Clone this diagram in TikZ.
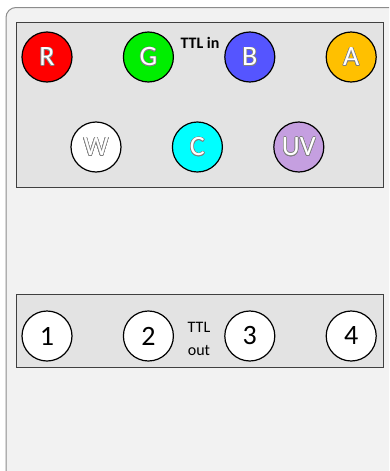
\documentclass[tikz,border=0pt]{standalone}
\usepackage{fontspec}
\setmainfont{Carlito}
\usepackage{contour}
\usepackage{tikz}
\usetikzlibrary{positioning}
\contourlength{0.6pt}
\definecolor{panel}{HTML}{F2F2F2}
\definecolor{tray}{HTML}{E3E3E3}
\definecolor{edge}{HTML}{8C8C8C}
\definecolor{ledG}{HTML}{00EE00}
\definecolor{ledB}{HTML}{5555FF}
\definecolor{ledA}{HTML}{FFC000}
\definecolor{ledC}{HTML}{00FFFF}
\definecolor{ledUV}{HTML}{C59FE0}
\newcommand{\ledtxt}[1]{\contour{gray}{\textcolor{white}{#1}}}

\begin{document}
\begin{tikzpicture}[x=1pt, y=-1pt, node distance=50.2pt,
  lamp/.style={circle, draw, line width=1.2pt, minimum size=50pt, inner sep=0pt, font=\fontsize{28}{30}\selectfont},
  port/.style={lamp, fill=white},
  tray/.style={draw=black!75, fill=tray}]
\useasboundingbox (0,0) rectangle (389,471);
\clip (0,0) rectangle (389,471);
% housing
\draw[edge, fill=panel, rounded corners=10pt, line width=1pt] (6,7.5) rectangle (400,482);
% input block
\draw[tray] (16,22.5) rectangle (383,187);
\node[font=\fontsize{16}{18}\selectfont\bfseries] (tin) at (200,43) {TTL in};
\node[lamp, fill=red] (r) at (47,57) {\ledtxt{R}};
\node[lamp, fill=ledG, right=of r] (g) {\ledtxt{G}};
\node[lamp, fill=ledB, right=of g] (b) {\ledtxt{B}};
\node[lamp, fill=ledA, right=of b] (a) {\ledtxt{A}};
\node[lamp, fill=white] (w) at (96,147) {\ledtxt{W}};
\node[lamp, fill=ledC, right=of w] (c) {\ledtxt{C}};
\node[lamp, fill=ledUV, right=of c] (uv) {\ledtxt{UV}};
% output block
\draw[tray] (16,294) rectangle (383,367);
\node[align=center, font=\fontsize{16}{23}\selectfont] (tout) at (199,339) {TTL\\out};
\node[port] (o1) at (47,336) {1};
\node[port, right=of o1] (o2) {2};
\node[port, right=of o2] (o3) {3};
\node[port, right=of o3] (o4) {4};
\end{tikzpicture}
\end{document}
